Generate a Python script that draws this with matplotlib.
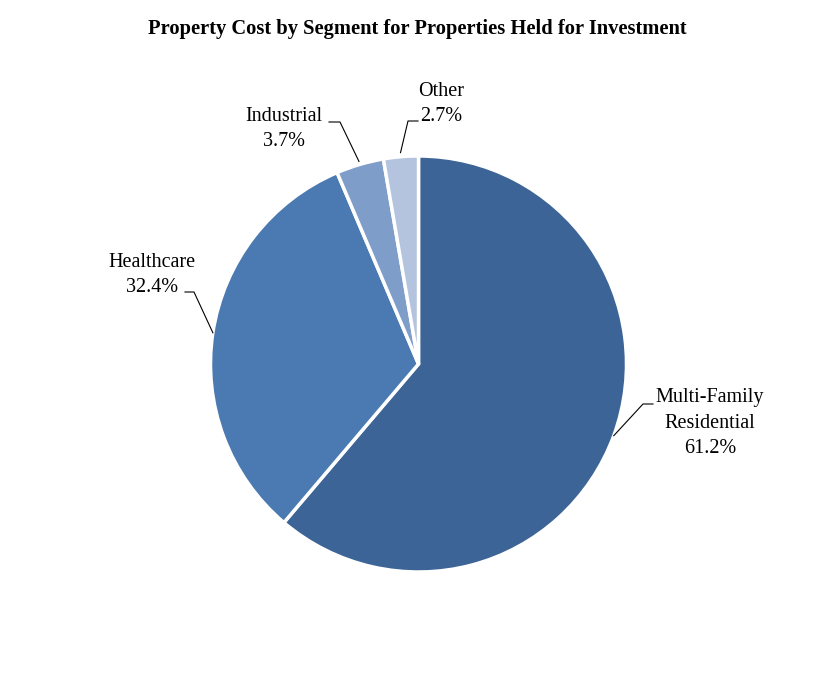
import numpy as np
import matplotlib
matplotlib.use("Agg")
import matplotlib.pyplot as plt

segments = ["Multi-Family\nResidential", "Healthcare", "Industrial", "Other"]
shares = [61.2, 32.4, 3.7, 2.7]
colors = ["#3C6496", "#4A7AB1", "#7F9DC9", "#B4C4DF"]
explode = [0.0, 0.0, 0.015, 0.02]

W, H = 834, 684
cx, cy, R = 418.5, H - 364, 208

# label layout in pixel coords (text centre, elbow, end of horizontal tick)
label_pos = [(710, H - 423), (152, H - 275), (284, H - 129), (441, H - 104)]
elbows = [(643, H - 404), (194, H - 292), (340, H - 122), (408, H - 121)]
tick_ends = [(653, H - 404), (185, H - 292), (329, H - 122), (418, H - 121)]

plt.rcParams["font.family"] = ["Liberation Serif", "DejaVu Serif"]

fig = plt.figure(figsize=(W / 100, H / 100), dpi=100)
ax = fig.add_axes([0, 0, 1, 1])

wedges, _ = ax.pie(shares, colors=colors, startangle=90, counterclock=False,
                   center=(cx, cy), radius=R, explode=explode,
                   wedgeprops=dict(edgecolor="white", linewidth=2.5))
ax.set_xlim(0, W)
ax.set_ylim(0, H)
ax.set_aspect("equal")
ax.axis("off")

for w, seg, val, tp, el, te, ex in zip(wedges, segments, shares, label_pos,
                                       elbows, tick_ends, explode):
    mid = np.deg2rad((w.theta1 + w.theta2) / 2)
    r = R * (1 + ex)
    px, py = cx + r * np.cos(mid), cy + r * np.sin(mid)
    ax.plot([px, el[0], te[0]], [py, el[1], te[1]], color="black", lw=0.8)
    ax.text(tp[0], tp[1], f"{seg}\n{val:.1f}%", ha="center", va="center",
            fontsize=14.5, linespacing=1.45)

fig.text(0.5, 1 - 29 / H, "Property Cost by Segment for Properties Held for Investment",
         ha="center", va="center", fontsize=14.8, fontweight="bold")

fig.savefig("out.png", dpi=100)
